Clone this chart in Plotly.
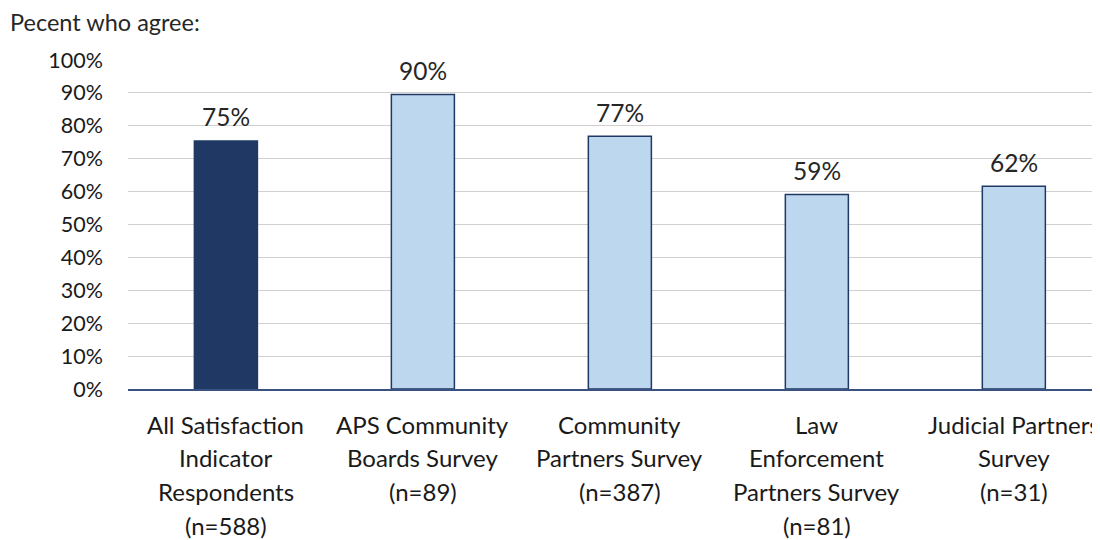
import plotly.graph_objects as go

categories = [
    "All Satisfaction<br>Indicator<br>Respondents<br>(n=588)",
    "APS Community<br>Boards Survey<br>(n=89)",
    "Community<br>Partners Survey<br>(n=387)",
    "Law<br>Enforcement<br>Partners Survey<br>(n=81)",
    "Judicial Partners<br>Survey<br>(n=31)",
]
values = [75.4, 89.5, 76.8, 59.1, 61.6]
value_labels = ["75%", "90%", "77%", "59%", "62%"]
bar_colors = ["#203864", "#BDD7EE", "#BDD7EE", "#BDD7EE", "#BDD7EE"]
y_ticks = [0, 10, 20, 30, 40, 50, 60, 70, 80, 90, 100]
y_tick_text = [f"{v}%" for v in y_ticks]

FONT = "Lato"
xs = list(range(len(categories)))

fig = go.Figure()
fig.add_trace(go.Bar(
    x=xs, y=values, width=0.32,
    marker=dict(color=bar_colors, line=dict(color="#203864", width=1.5)),
    hoverinfo="skip",
))

# value labels above bars
for i, (v, t) in enumerate(zip(values, value_labels)):
    fig.add_annotation(
        x=i, y=v, xref="x", yref="y", text=t, showarrow=False,
        yanchor="middle", xanchor="center", yshift=24,
        font=dict(family=FONT, size=24.5, color="#262626"),
    )

# multi-line category labels, one annotation per line for Excel-like spacing
line_h = 33.8
for i, cat in enumerate(categories):
    for j, line in enumerate(cat.split("<br>")):
        fig.add_annotation(
            x=i, y=0, xref="x", yref="y", text=line, showarrow=False,
            yanchor="middle", xanchor="center",
            yshift=-35 - j * line_h,
            font=dict(family=FONT, size=24, color="#1a1a1a"),
        )

fig.add_annotation(
    x=0, y=1, xref="paper", yref="paper", text="Pecent who agree:",
    showarrow=False, xanchor="left", yanchor="middle",
    xshift=-120, yshift=38,
    font=dict(family=FONT, size=23.5, color="#262626"),
)

fig.update_layout(
    width=1100, height=540,
    margin=dict(l=120, r=0, t=52, b=159),
    paper_bgcolor="white", plot_bgcolor="white",
    showlegend=False,
    xaxis=dict(
        range=[-0.497, 4.478], showticklabels=False, showgrid=False,
        showline=True, linecolor="#3a5280", linewidth=1.5, zeroline=False,
        fixedrange=True,
    ),
    yaxis=dict(
        range=[0, 100], tickvals=y_ticks, ticktext=y_tick_text,
        showgrid=True, gridcolor="#D0D0D0", gridwidth=1,
        zeroline=False, showline=False, ticklabelstandoff=24,
        tickfont=dict(family=FONT, size=21.5, color="#1a1a1a"),
        fixedrange=True,
    ),
)

fig.write_html("out.html")
